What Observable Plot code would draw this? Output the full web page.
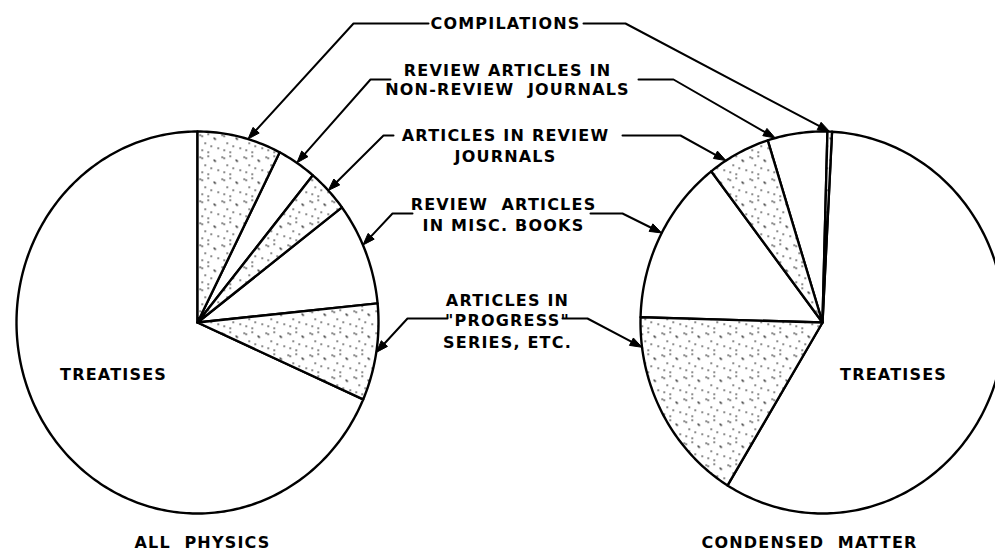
<!DOCTYPE html>
<html><head><meta charset="utf-8">
<script src="https://cdn.jsdelivr.net/npm/d3@7"></script>
<script src="https://cdn.jsdelivr.net/npm/@observablehq/plot@0.6"></script>
<style>
html,body{margin:0;padding:0;background:#fff;}
#chart svg{display:block;}
</style>
</head><body><div id="chart"></div>
<script>
// ---- data (percent of each pie, going round from the compilations slice) ----
const categories = ["Compilations", "Review articles in non-review journals", "Articles in review journals",
  "Review articles in misc. books", "Articles in \"progress\" series, etc.", "Treatises"];
const allPhysics = [7.5, 3.5, 3.7, 8.7, 8.2, 68.4];
const condensedMatter = [0.4, 5.3, 5.6, 14.1, 16.7, 57.9];
const stippled = [true, false, true, false, true, false];
const pieTitles = ["ALL\u00a0\u00a0PHYSICS", "CONDENSED\u00a0\u00a0MATTER"];
const sliceLabels = [
  ["COMPILATIONS"],
  ["REVIEW\u00a0ARTICLES\u00a0IN", "NON-REVIEW\u00a0\u00a0JOURNALS"],
  ["ARTICLES\u00a0IN\u00a0REVIEW", "JOURNALS"],
  ["REVIEW\u00a0\u00a0ARTICLES", "IN\u00a0MISC.\u00a0BOOKS"],
  ["ARTICLES\u00a0IN", "\"PROGRESS\"", "SERIES,\u00a0ETC."]
];
const centerLabel = "TREATISES";

// ---- layout ----
const W = 995, H = 554;
const pies = [
  {values: allPhysics, cx: 197, cy: 322, rx: 181, ry: 191, start: 0, dir: 1, titleX: 202, treatX: 113},
  {values: condensedMatter, cx: 822, cy: 322, rx: 182, ry: 191, start: 3.0, dir: -1, titleX: 809, treatX: 893}
];
const titleY = 542, treatY = 374;
const labelLayout = [
  {x: 505, ys: [23]},
  {x: 507, ys: [70, 89]},
  {x: 505, ys: [135, 156]},
  {x: 503, ys: [204, 225]},
  {x: 507, ys: [300, 320, 342]}
];
// leader: [start, knee] for left pie and right pie, plus where along the slice arc the arrow lands (0..1)
const leaders = [
  {L: [[428, 23], [353, 23]], fl: 0.6, R: [[583, 23], [625, 23]], fr: 0.5},
  {L: [[390, 79], [370, 79]], fl: 0.5, R: [[638, 79], [673, 79]], fr: 0.87},
  {L: [[393, 135], [383, 135]], fl: 0.5, R: [[622, 135], [680, 135]], fr: 0.72},
  {L: [[412, 213], [392, 213]], fl: 0.42, R: [[590, 213], [622, 213]], fr: 0.48},
  {L: [[447, 318], [407, 318]], fl: 0.5, R: [[562, 318], [587, 318]], fr: 0.15}
];

const rad = Math.PI / 180;
function pt(p, deg, k = 1) {
  return [p.cx + k * p.rx * Math.sin(deg * rad), p.cy - k * p.ry * Math.cos(deg * rad)];
}
pies.forEach(p => {
  let cum = 0;
  p.slices = p.values.map((v, i) => {
    const a0 = p.start + p.dir * cum * 3.6;
    cum += v;
    const a1 = p.start + p.dir * cum * 3.6;
    return {i, a0, a1};
  });
});

const slicePts = [];
pies.forEach((p, pi) => {
  p.slices.forEach(s => {
    const id = pi + "-" + s.i;
    const n = Math.max(2, Math.ceil(Math.abs(s.a1 - s.a0)));
    slicePts.push({id, stip: stippled[s.i], x: p.cx, y: p.cy});
    for (let k = 0; k <= n; k++) {
      const [x, y] = pt(p, s.a0 + (s.a1 - s.a0) * k / n);
      slicePts.push({id, stip: stippled[s.i], x, y});
    }
    slicePts.push({id, stip: stippled[s.i], x: p.cx, y: p.cy});
  });
});

const leaderPts = [], headPts = [];
leaders.forEach((ld, i) => {
  [["L", ld.fl, 0], ["R", ld.fr, 1]].forEach(([side, f, pi]) => {
    const p = pies[pi], s = p.slices[i];
    const tip = pt(p, s.a0 + f * (s.a1 - s.a0));
    const knee = ld[side][1], st = ld[side][0];
    const dx = tip[0] - knee[0], dy = tip[1] - knee[1], len = Math.hypot(dx, dy);
    const ux = dx / len, uy = dy / len, Lh = 12, wh = 4.2;
    const id = side + i;
    leaderPts.push({id, x: st[0], y: st[1]}, {id, x: knee[0], y: knee[1]},
      {id, x: tip[0] - ux * Lh * 0.7, y: tip[1] - uy * Lh * 0.7});
    const bx = tip[0] - ux * Lh, by = tip[1] - uy * Lh;
    headPts.push({id, x: tip[0], y: tip[1]}, {id, x: bx - uy * wh, y: by + ux * wh},
      {id, x: bx + uy * wh, y: by - ux * wh}, {id, x: tip[0], y: tip[1]});
  });
});

const textRows = [];
sliceLabels.forEach((lines, i) => lines.forEach((t, j) => textRows.push({t, x: labelLayout[i].x, y: labelLayout[i].ys[j]})));
pies.forEach((p, pi) => {
  textRows.push({t: pieTitles[pi], x: p.titleX, y: titleY});
  textRows.push({t: centerLabel, x: p.treatX, y: treatY});
});

const plot = Plot.plot({
  width: W, height: H, margin: 0,
  x: {domain: [0, W], range: [0, W], axis: null},
  y: {domain: [0, H], range: [0, H], axis: null},
  style: {fontFamily: "DejaVu Sans", letterSpacing: "1.2px", background: "white", overflow: "hidden"},
  marks: [
    Plot.line(slicePts.filter(d => !d.stip), {x: "x", y: "y", z: "id", fill: "white", stroke: "black", strokeWidth: 2.4, strokeLinejoin: "round", curve: "linear"}),
    Plot.line(slicePts.filter(d => d.stip), {x: "x", y: "y", z: "id", fill: "url(#stipple)", stroke: "black", strokeWidth: 2.4, strokeLinejoin: "round", curve: "linear"}),
    Plot.line(leaderPts, {x: "x", y: "y", z: "id", stroke: "black", strokeWidth: 2, strokeLinejoin: "round", curve: "linear"}),
    Plot.line(headPts, {x: "x", y: "y", z: "id", fill: "black", stroke: "black", strokeWidth: 1, curve: "linear"}),
    Plot.text(textRows, {x: "x", y: "y", text: "t", fontSize: 16, fontWeight: "bold", fill: "black"})
  ]
});

const ns = "http://www.w3.org/2000/svg";
const defs = document.createElementNS(ns, "defs");
defs.innerHTML = `<pattern id="stipple" width="22" height="22" patternUnits="userSpaceOnUse">
<rect width="22" height="22" fill="white"/>
<rect x="1" y="2" width="1.4" height="1.4" fill="#111"/>
<rect x="3" y="3" width="1.4" height="1.4" fill="#111"/>
<rect x="9" y="1" width="1.4" height="1.4" fill="#111"/>
<rect x="15" y="5" width="1.4" height="1.4" fill="#111"/>
<rect x="16" y="6" width="1.4" height="1.4" fill="#111"/>
<rect x="6" y="10" width="1.4" height="1.4" fill="#111"/>
<rect x="12" y="13" width="1.4" height="1.4" fill="#111"/>
<rect x="19" y="15" width="1.4" height="1.4" fill="#111"/>
<rect x="3" y="17" width="1.4" height="1.4" fill="#111"/>
<rect x="9" y="19" width="1.4" height="1.4" fill="#111"/>
</pattern>`;
plot.insertBefore(defs, plot.firstChild);
document.getElementById("chart").appendChild(plot);
</script>
</body></html>
